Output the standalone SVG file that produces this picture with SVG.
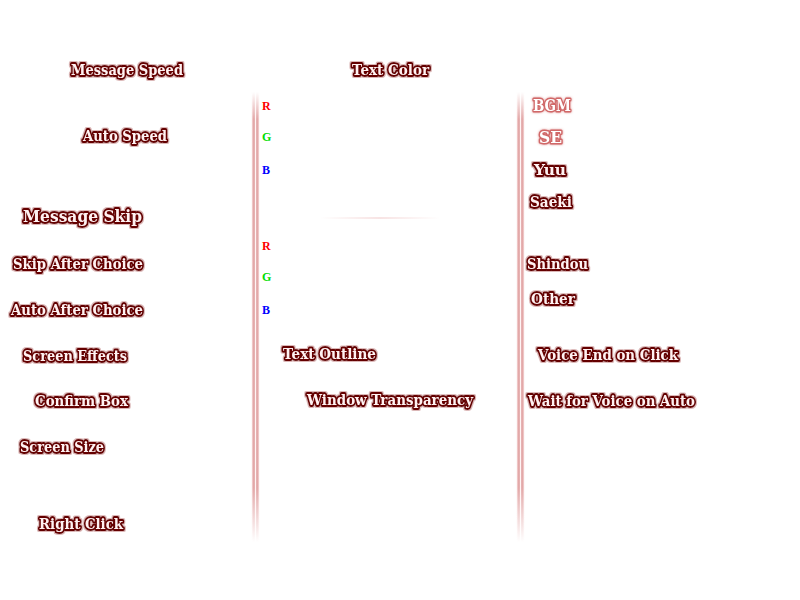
<svg xmlns="http://www.w3.org/2000/svg" width="800" height="600" viewBox="0 0 800 600">
<style>
.lbl{font-family:"DejaVu Serif","Liberation Serif",serif;font-weight:bold;font-size:15px;fill:#fff2f2;stroke:#650505;stroke-width:3.8;paint-order:stroke;stroke-linejoin:round;filter:url(#glow)}
.big{font-size:17px}
.vol{font-family:"DejaVu Serif","Liberation Serif",serif;font-weight:bold;font-size:16px;fill:#ffffff;stroke:#d06868;stroke-width:3;paint-order:stroke;stroke-linejoin:round;filter:url(#pglow)}
.rgb{font-family:"Liberation Serif","DejaVu Serif",serif;font-weight:bold;font-size:12px}
</style>
<defs>
<filter id="glow" x="-10%" y="-40%" width="120%" height="180%">
<feMorphology in="SourceAlpha" operator="dilate" radius="0.8" result="d"/>
<feGaussianBlur in="d" stdDeviation="0.7" result="b"/>
<feFlood flood-color="#b06060" flood-opacity="0.45"/>
<feComposite in2="b" operator="in" result="g"/>
<feMerge><feMergeNode in="g"/><feMergeNode in="SourceGraphic"/></feMerge>
</filter>
<filter id="pglow" x="-20%" y="-50%" width="140%" height="200%">
<feGaussianBlur in="SourceAlpha" stdDeviation="1.3" result="b"/>
<feFlood flood-color="#d06060" flood-opacity="0.7"/>
<feComposite in2="b" operator="in" result="g"/>
<feMerge><feMergeNode in="g"/><feMergeNode in="SourceGraphic"/></feMerge>
</filter>
<linearGradient id="hx" x1="0" y1="0" x2="1" y2="0">
<stop offset="0" stop-color="#fff" stop-opacity="0"/>
<stop offset="0.18" stop-color="#ecbcbc"/>
<stop offset="0.35" stop-color="#dc9a9a"/>
<stop offset="0.5" stop-color="#fff4f4"/>
<stop offset="0.65" stop-color="#dc9a9a"/>
<stop offset="0.82" stop-color="#ecbcbc"/>
<stop offset="1" stop-color="#fff" stop-opacity="0"/>
</linearGradient>
<linearGradient id="vy" x1="0" y1="0" x2="0" y2="1">
<stop offset="0" stop-color="#000"/>
<stop offset="0.06" stop-color="#fff"/>
<stop offset="0.88" stop-color="#fff"/>
<stop offset="1" stop-color="#000"/>
</linearGradient>
<mask id="fade" maskContentUnits="objectBoundingBox"><rect width="1" height="1" fill="url(#vy)"/></mask>
<linearGradient id="hl" x1="0" y1="0" x2="1" y2="0">
<stop offset="0" stop-color="#f0c8c8" stop-opacity="0"/>
<stop offset="0.5" stop-color="#f0c8c8"/>
<stop offset="1" stop-color="#f0c8c8" stop-opacity="0"/>
</linearGradient>
</defs>
<rect width="800" height="600" fill="#ffffff"/>
<g id="connectors">
<rect x="251" y="92" width="9" height="450" fill="url(#hx)" mask="url(#fade)"/>
<rect x="516" y="92" width="9" height="450" fill="url(#hx)" mask="url(#fade)"/>
<rect x="320" y="217.5" width="120" height="1" fill="url(#hl)"/>
</g>
<g id="left-column">
<g id="message-speed"><text class="lbl" x="71" y="75" textLength="112" lengthAdjust="spacingAndGlyphs">Message Speed</text></g>
<g id="auto-speed"><text class="lbl" x="83" y="141" textLength="84" lengthAdjust="spacingAndGlyphs">Auto Speed</text></g>
<g id="message-skip"><text class="lbl big" x="23" y="222" textLength="119" lengthAdjust="spacingAndGlyphs">Message Skip</text></g>
<g id="skip-after-choice"><text class="lbl" x="13" y="269" textLength="130" lengthAdjust="spacingAndGlyphs">Skip After Choice</text></g>
<g id="auto-after-choice"><text class="lbl" x="11" y="315" textLength="132" lengthAdjust="spacingAndGlyphs">Auto After Choice</text></g>
<g id="screen-effects"><text class="lbl" x="23" y="361" textLength="104" lengthAdjust="spacingAndGlyphs">Screen Effects</text></g>
<g id="confirm-box"><text class="lbl" x="35" y="406" textLength="93" lengthAdjust="spacingAndGlyphs">Confirm Box</text></g>
<g id="screen-size"><text class="lbl" x="20" y="452" textLength="84" lengthAdjust="spacingAndGlyphs">Screen Size</text></g>
<g id="right-click"><text class="lbl" x="39" y="529" textLength="84" lengthAdjust="spacingAndGlyphs">Right Click</text></g>
</g>
<g id="middle-column">
<g id="text-color"><text class="lbl" x="352" y="75" textLength="77" lengthAdjust="spacingAndGlyphs">Text Color</text></g>
<g id="text-color-rgb">
<text class="rgb" x="262" y="110" fill="#ff0000">R</text>
<text class="rgb" x="262" y="141" fill="#00dd00">G</text>
<text class="rgb" x="262" y="174" fill="#0000ff">B</text>
</g>
<g id="outline-rgb">
<text class="rgb" x="262" y="250" fill="#ff0000">R</text>
<text class="rgb" x="262" y="281" fill="#00dd00">G</text>
<text class="rgb" x="262" y="314" fill="#0000ff">B</text>
</g>
<g id="text-outline"><text class="lbl" x="283" y="359" textLength="93" lengthAdjust="spacingAndGlyphs">Text Outline</text></g>
<g id="window-transparency"><text class="lbl" x="307" y="405" textLength="166" lengthAdjust="spacingAndGlyphs">Window Transparency</text></g>
</g>
<g id="right-column">
<g id="bgm"><text class="vol" x="533" y="111" textLength="38" lengthAdjust="spacingAndGlyphs">BGM</text></g>
<g id="se"><text class="vol" x="539" y="143" textLength="23" lengthAdjust="spacingAndGlyphs">SE</text></g>
<g id="yuu"><text class="lbl" x="534" y="175" textLength="32" lengthAdjust="spacingAndGlyphs">Yuu</text></g>
<g id="saeki"><text class="lbl" x="530" y="207" textLength="42" lengthAdjust="spacingAndGlyphs">Saeki</text></g>
<g id="shindou"><text class="lbl" x="527" y="269" textLength="61" lengthAdjust="spacingAndGlyphs">Shindou</text></g>
<g id="other"><text class="lbl" x="531" y="304" textLength="44" lengthAdjust="spacingAndGlyphs">Other</text></g>
<g id="voice-end-on-click"><text class="lbl" x="538" y="360" textLength="140" lengthAdjust="spacingAndGlyphs">Voice End on Click</text></g>
<g id="wait-for-voice-on-auto"><text class="lbl" x="528" y="406" textLength="167" lengthAdjust="spacingAndGlyphs">Wait for Voice on Auto</text></g>
</g>
</svg>
